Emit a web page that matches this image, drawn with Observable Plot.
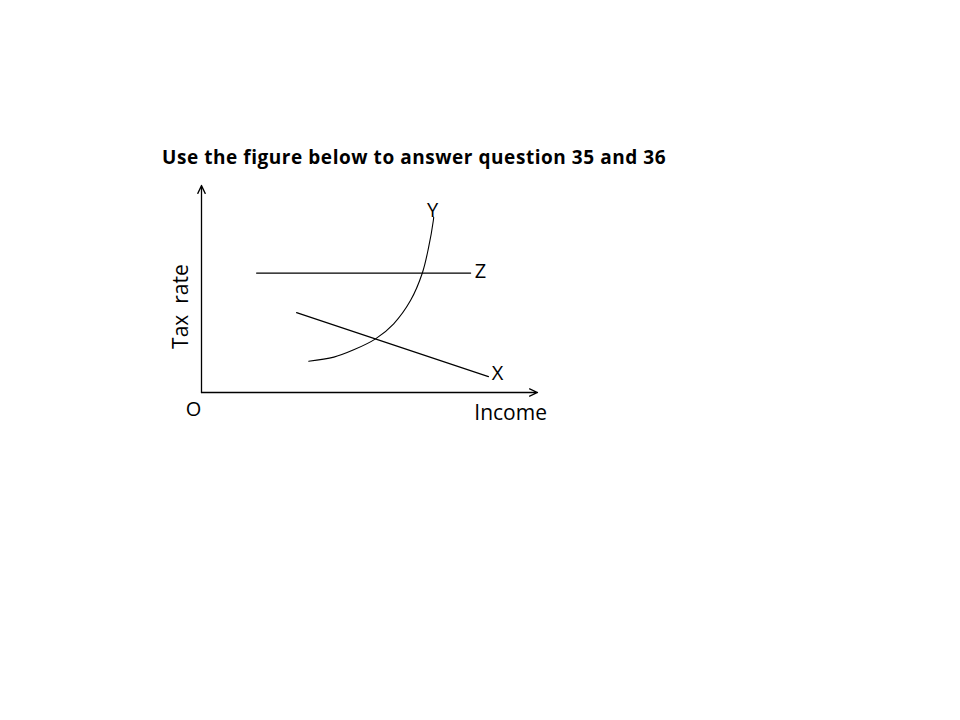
<!DOCTYPE html>
<html>
<head>
<meta charset="utf-8">
<script src="https://cdn.jsdelivr.net/npm/d3@7"></script>
<script src="https://cdn.jsdelivr.net/npm/@observablehq/plot@0.6"></script>
<style>
  html, body { margin: 0; padding: 0; background: #fff; width: 960px; height: 720px; overflow: hidden; }
  #title { position: absolute; left: 162px; top: 144px; font-family: "Open Sans", sans-serif; font-weight: bold; font-size: 19px; letter-spacing: 0.55px; color: #000; white-space: nowrap; font-variant-ligatures: none; }
  #chart { position: absolute; left: 0; top: 0; }
</style>
</head>
<body>
<div id="title">Use the figure below to answer question 35 and 36</div>
<div id="chart"></div>
<script>
// Abstract units: income 0–100 on x, tax rate 0–100 on y
const titleText = "Use the figure below to answer question 35 and 36";
const xAxisLabel = "Income";
const yAxisLabel = "Tax\u00a0\u00a0rate";
const originLabel = "O";

// Line Z (proportional: constant tax rate)
const lineZIncome = [16.4, 80.1];
const lineZRate = [57.7, 57.7];
// Line X (regressive: falling tax rate)
const lineXIncome = [28.3, 85.4];
const lineXRate = [38.6, 7.7];
// Curve Y (progressive: rising tax rate)
const curveYIncome = [31.9, 39.4, 45.3, 51.8, 57.2, 62.2, 65.7, 67.6, 69.0, 69.1];
const curveYRate   = [15.1, 17.1, 20.6, 25.9, 33.2, 44.4, 57.6, 70.2, 83.1, 84.7];

const curveLabels = ["Y", "Z", "X"];
const curveLabelIncome = [68.8, 83.0, 88.1];
const curveLabelRate = [87.9, 58.4, 9.2];

const zData = lineZIncome.map((x, i) => ({x, y: lineZRate[i]}));
const xData = lineXIncome.map((x, i) => ({x, y: lineXRate[i]}));
const yData = curveYIncome.map((x, i) => ({x, y: curveYRate[i]}));
const labelData = curveLabels.map((t, i) => ({t, x: curveLabelIncome[i], y: curveLabelRate[i]}));
const axesData = [{x1: 0, y1: 0, x2: 100, y2: 0}, {x1: 0, y1: 0, x2: 0, y2: 100}];

const font = "'Open Sans', sans-serif";

const chart = Plot.plot({
  width: 960,
  height: 720,
  margin: 0,
  x: {domain: [0, 100], range: [201, 537], axis: null},
  y: {domain: [0, 100], range: [392, 185], axis: null},
  marks: [
    Plot.arrow(axesData, {x1: "x1", y1: "y1", x2: "x2", y2: "y2", stroke: "#000", strokeWidth: 1.3, headLength: 10, headAngle: 50}),
    Plot.line(zData, {x: "x", y: "y", stroke: "#000", strokeWidth: 1.2}),
    Plot.line(xData, {x: "x", y: "y", stroke: "#000", strokeWidth: 1.2}),
    Plot.line(yData, {x: "x", y: "y", stroke: "#000", strokeWidth: 1.1, curve: "catmull-rom"}),
    Plot.text(labelData, {x: "x", y: "y", text: "t", fontFamily: font, fontSize: 20, fill: "#000", textAnchor: "middle", lineAnchor: "middle"}),
    Plot.text([{x: -2.4, y: -8.2}], {x: "x", y: "y", text: () => originLabel, fontFamily: font, fontSize: 20, fill: "#000", textAnchor: "middle", lineAnchor: "middle"}),
    Plot.text([{x: 92.0, y: -10.1}], {x: "x", y: "y", text: () => xAxisLabel, fontFamily: font, fontSize: 21, fill: "#000", textAnchor: "middle", lineAnchor: "middle"}),
    Plot.text([{x: -6.0, y: 41.5}], {x: "x", y: "y", text: () => yAxisLabel, rotate: -90, fontFamily: font, fontSize: 21, fill: "#000", textAnchor: "middle", lineAnchor: "middle"})
  ]
});
document.getElementById("chart").append(chart);
</script>
</body>
</html>
